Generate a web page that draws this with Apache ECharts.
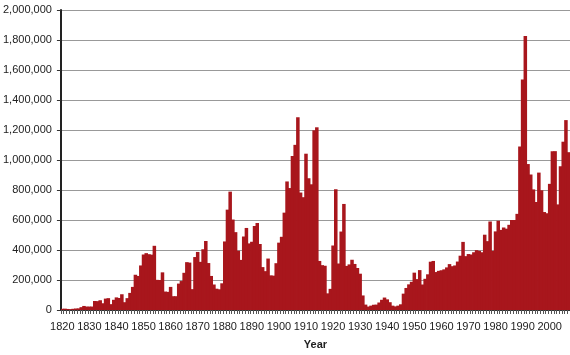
<!DOCTYPE html>
<html>
<head>
<meta charset="utf-8">
<script src="https://cdn.jsdelivr.net/npm/echarts@6/dist/echarts.min.js"></script>
<style>
html,body{margin:0;padding:0;background:#fff;}
#chart{width:570px;height:355px;}
</style>
</head>
<body>
<div id="chart"></div>
<script>
const firstYear = 1820;
const immigrants = [
  8000, 9000, 7000, 6000, 8000, 10000, 11000, 19000, 27000, 23000,
  23000, 23000, 60000, 59000, 65000, 45000, 76000, 79000, 39000, 68000,
  84000, 80000, 105000, 52000, 79000, 114000, 154000, 235000, 227000, 297000,
  370000, 379000, 372000, 369000, 428000, 201000, 200000, 251000, 123000, 121000,
  154000, 92000, 92000, 176000, 193000, 248000, 319000, 316000, 139000, 353000,
  387000, 321000, 405000, 460000, 313000, 227000, 170000, 142000, 138000, 178000,
  457000, 669000, 789000, 603000, 519000, 395000, 334000, 490000, 547000, 444000,
  455000, 560000, 580000, 440000, 286000, 259000, 343000, 231000, 229000, 312000,
  449000, 488000, 649000, 857000, 813000, 1026000, 1101000, 1285000, 783000, 752000,
  1042000, 879000, 838000, 1198000, 1218000, 327000, 299000, 295000, 111000, 141000,
  430000, 805000, 310000, 523000, 707000, 294000, 304000, 335000, 307000, 280000,
  242000, 97000, 36000, 23000, 29000, 35000, 36000, 50000, 68000, 83000,
  71000, 52000, 29000, 24000, 29000, 38000, 109000, 147000, 171000, 188000,
  249000, 206000, 266000, 170000, 208000, 238000, 322000, 327000, 253000, 261000,
  265000, 271000, 284000, 306000, 292000, 297000, 323000, 362000, 454000, 359000,
  373000, 370000, 385000, 399000, 394000, 385000, 502000, 459000, 590000, 394000,
  524000, 595000, 534000, 550000, 542000, 568000, 600000, 600000, 641000, 1090000,
  1536000, 1827000, 973000, 904000, 804000, 720000, 916000, 798000, 653000, 645000,
  841000, 1059000, 1059000, 704000, 958000, 1122000, 1266000, 1052000
];
const years = immigrants.map((_, i) => String(firstYear + i));
const yTicks = { min: 0, max: 2000000, step: 200000 };
const xTitle = 'Year';

const chart = echarts.init(document.getElementById('chart'), null, {renderer: 'canvas'});
const font = '"Liberation Sans", Arial, Helvetica, sans-serif';
const barColor = '#a8161c';
chart.setOption({
  animation: false,
  backgroundColor: '#ffffff',
  grid: { left: 59, right: 0, top: 10, bottom: 34, containLabel: false },
  xAxis: {
    type: 'category',
    data: years,
    boundaryGap: true,
    name: xTitle,
    nameLocation: 'middle',
    nameGap: 29,
    nameTextStyle: { fontFamily: font, fontSize: 11, fontWeight: 'bold', color: '#222' },
    axisLine: { show: true, lineStyle: { color: '#333', width: 1 } },
    axisTick: { show: true, interval: 0, length: 4, lineStyle: { color: '#555', width: 1 } },
    axisLabel: { interval: 9, margin: 11, fontFamily: font, fontSize: 11, color: '#222' },
    splitLine: { show: false }
  },
  yAxis: {
    type: 'value',
    min: yTicks.min,
    max: yTicks.max,
    interval: yTicks.step,
    axisLine: { show: true, lineStyle: { color: '#222', width: 2 } },
    axisTick: { show: true, length: 4, lineStyle: { color: '#333', width: 1 } },
    axisLabel: {
      margin: 9, fontFamily: font, fontSize: 11, color: '#222',
      formatter: v => v.toLocaleString('en-US')
    },
    splitLine: { show: true, lineStyle: { color: '#999', width: 1 } }
  },
  series: [{
    type: 'bar',
    data: immigrants,
    barWidth: '130%',
    itemStyle: { color: barColor, borderWidth: 0 },
    emphasis: { disabled: true }
  }]
});
</script>
</body>
</html>
